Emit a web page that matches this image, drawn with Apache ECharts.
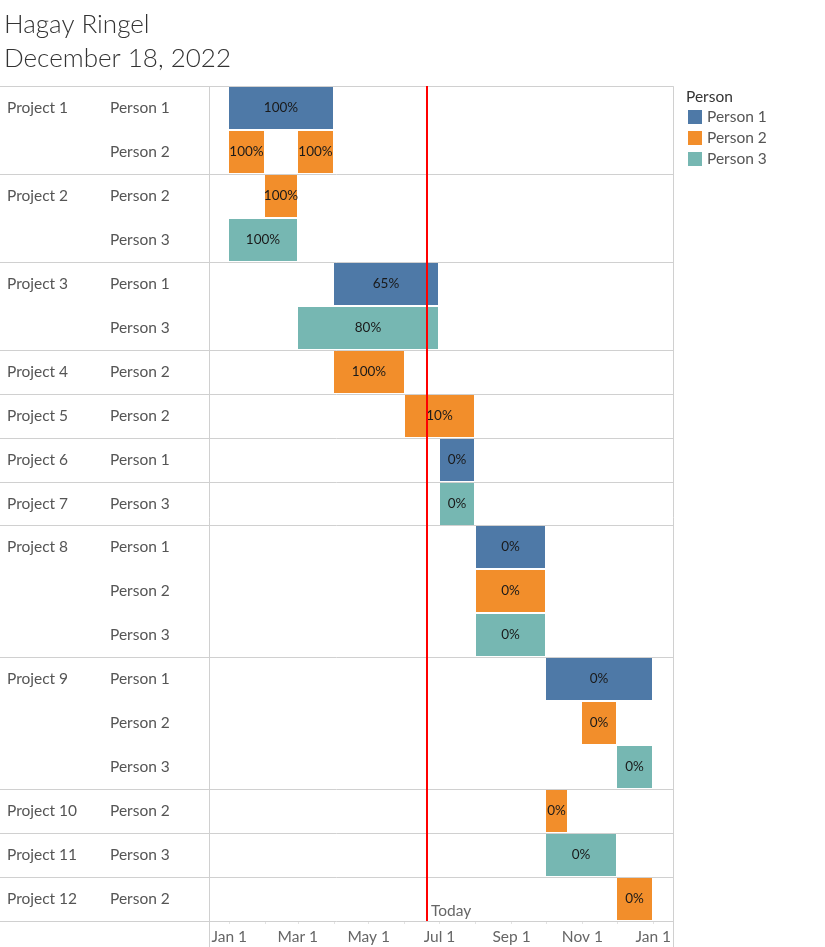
<!DOCTYPE html>
<html><head><meta charset="utf-8">
<script src="https://cdn.jsdelivr.net/npm/echarts@6/dist/echarts.min.js"></script>
<style>html,body{margin:0;padding:0;background:#fff}#c{width:825px;height:947px}</style>
</head><body><div id="c"></div><script>
// ---- data ----
const rowProjects = ['Project 1','Project 1','Project 2','Project 2','Project 3','Project 3','Project 4','Project 5','Project 6','Project 7','Project 8','Project 8','Project 8','Project 9','Project 9','Project 9','Project 10','Project 11','Project 12'];
const rowPersons = ['Person 1','Person 2','Person 2','Person 3','Person 1','Person 3','Person 2','Person 2','Person 1','Person 3','Person 1','Person 2','Person 3','Person 1','Person 2','Person 3','Person 2','Person 3','Person 2'];
const persons = ['Person 1','Person 2','Person 3'];
const taskRows = [0,1,1,2,3,4,5,6,7,8,9,10,11,12,13,14,15,16,17,18];
const taskStarts = ['2022-01-01','2022-01-01','2022-03-01','2022-02-01','2022-01-01','2022-04-01','2022-03-01','2022-04-01','2022-06-01','2022-07-01','2022-07-01','2022-08-01','2022-08-01','2022-08-01','2022-10-01','2022-11-01','2022-12-01','2022-10-01','2022-10-01','2022-12-01'];
const taskEnds = ['2022-03-31','2022-01-31','2022-03-31','2022-02-28','2022-02-28','2022-06-30','2022-06-30','2022-05-31','2022-07-31','2022-07-31','2022-07-31','2022-09-30','2022-09-30','2022-09-30','2022-12-31','2022-11-30','2022-12-31','2022-10-19','2022-11-30','2022-12-31'];
const taskPcts = ['100%','100%','100%','100%','100%','65%','80%','100%','10%','0%','0%','0%','0%','0%','0%','0%','0%','0%','0%','0%'];
const tickDates = ['2022-01-01','2022-03-01','2022-05-01','2022-07-01','2022-09-01','2022-11-01','2023-01-01'];
const tickLabels = ['Jan 1','Mar 1','May 1','Jul 1','Sep 1','Nov 1','Jan 1'];
const monthTickDates = ['2022-01-01','2022-02-01','2022-03-01','2022-04-01','2022-05-01','2022-06-01','2022-07-01','2022-08-01','2022-09-01','2022-10-01','2022-11-01','2022-12-01','2023-01-01'];
const todayDate = '2022-06-20';
const axisStart = '2021-12-14T12';
const axisEnd = '2023-01-18';

// ---- helpers ----
const ts = s => { const [d, h] = s.split('T'); const p = d.split('-').map(Number); return Date.UTC(p[0], p[1] - 1, p[2], h ? Number(h) : 0); };
const FONT = 'Lato, "Open Sans", sans-serif';
const FS = 15.5;
const colors = ['#4e79a7', '#f28e2b', '#76b7b2'];
const rowKeys = rowPersons.map((_, i) => String(i));
const groupStarts = rowProjects.map((p, i) => (i === 0 || rowProjects[i - 1] !== p) ? i : -1).filter(i => i >= 0);
const boundaries = groupStarts.concat([rowProjects.length]);
const tickTs = tickDates.map(ts);

const chart = echarts.init(document.getElementById('c'), null, { renderer: 'canvas' });

function taskSeries(pi) {
  const idx = taskRows.map((r, i) => i).filter(i => rowPersons[taskRows[i]] === persons[pi]);
  return {
    type: 'custom', name: persons[pi], xAxisIndex: 1, yAxisIndex: 1,
    itemStyle: { color: colors[pi] },
    encode: { x: [1, 2], y: 0 },
    data: idx.map(i => [taskRows[i], ts(taskStarts[i]), ts(taskEnds[i])]),
    renderItem(params, api) {
      const s = api.coord([api.value(1), api.value(0)]);
      const e = api.coord([api.value(2), api.value(0)]);
      const h = api.size([0, 1])[1];
      const x0 = Math.round(s[0]), x1 = Math.round(e[0]);
      const y0 = Math.round(s[1] - h / 2) + 1;
      return {
        type: 'rect',
        shape: { x: x0, y: y0, width: x1 - x0, height: Math.round(h) - 2 },
        style: { fill: colors[pi] },
        textContent: { style: { text: taskPcts[idx[params.dataIndex]], fill: '#1a1a1a', font: '13.5px ' + FONT } },
        textConfig: { position: 'inside' }
      };
    },
    z: 3
  };
}

const option = {
  animation: false,
  color: colors,
  title: [
    { text: 'Hagay Ringel', left: 4, top: 12, padding: 0, textStyle: { fontFamily: FONT, fontSize: 26, fontWeight: 300, color: '#333' } },
    { text: 'December 18, 2022', left: 4, top: 46, padding: 0, textStyle: { fontFamily: FONT, fontSize: 26, fontWeight: 300, color: '#333' } },
    { text: 'Person', left: 686, top: 89, padding: 0, textStyle: { fontFamily: FONT, fontSize: FS, fontWeight: 'normal', color: '#333' } }
  ],
  legend: {
    orient: 'vertical', left: 688, top: 109, padding: 0, itemGap: 5,
    itemWidth: 14, itemHeight: 14, icon: 'rect',
    textStyle: { fontFamily: FONT, fontSize: FS, color: '#555' },
    data: persons
  },
  grid: [
    { left: 0, right: 152, top: 86, bottom: 26, outerBoundsMode: 'none' },
    { left: 209, right: 152, top: 86, bottom: 26, outerBoundsMode: 'none' },
    { left: 209.5, right: 151.5, top: 86.5, bottom: -3, outerBoundsMode: 'none', show: true, borderColor: '#d0d0d0', borderWidth: 1, backgroundColor: 'transparent' }
  ],
  xAxis: [
    { gridIndex: 0, type: 'value', min: 0, max: 1, show: false },
    {
      gridIndex: 1, type: 'value', min: ts(axisStart), max: ts(axisEnd),
      axisLine: { show: false },
      axisTick: { show: true, length: 3, customValues: monthTickDates.map(ts), lineStyle: { color: '#e3e3e3' } },
      axisLabel: {
        customValues: tickTs, margin: 8, color: '#666', fontSize: FS, fontFamily: FONT,
        formatter: (v, i) => { const k = tickTs.indexOf(v); return k >= 0 ? tickLabels[k] : (tickLabels[i] || ''); }
      },
      splitLine: { show: false }
    },
    { gridIndex: 2, type: 'value', min: 0, max: 1, show: false }
  ],
  yAxis: [
    { gridIndex: 0, type: 'value', min: 0, max: rowPersons.length, inverse: true, show: false },
    {
      gridIndex: 1, type: 'category', position: 'left', data: rowKeys, inverse: true,
      axisLine: { show: false }, axisTick: { show: false }, splitLine: { show: false },
      axisLabel: { interval: 0, formatter: (v, i) => rowPersons[i], align: 'left', margin: 99, color: '#555', fontSize: FS, fontFamily: FONT }
    },
    {
      gridIndex: 1, type: 'category', position: 'left', offset: 0, data: rowKeys, inverse: true,
      axisLine: { show: false }, axisTick: { show: false }, splitLine: { show: false },
      axisLabel: { interval: 0, formatter: (v, i) => groupStarts.indexOf(i) >= 0 ? rowProjects[i] : '', align: 'left', margin: 202, color: '#555', fontSize: FS, fontFamily: FONT }
    },
    { gridIndex: 2, type: 'value', min: 0, max: 1, show: false }
  ],
  series: [
    {
      type: 'custom', name: 'sep', xAxisIndex: 0, yAxisIndex: 0, silent: true, z: 1,
      encode: { x: 0, y: 1 },
      data: boundaries.map(b => [0, b]),
      renderItem(params, api) {
        const y = Math.round(api.coord([0, api.value(1)])[1]) + 0.5;
        const cs = params.coordSys;
        return { type: 'line', shape: { x1: cs.x, y1: y, x2: cs.x + cs.width + 0.5, y2: y }, style: { stroke: '#d0d0d0', lineWidth: 1 } };
      }
    },
    taskSeries(0), taskSeries(1), taskSeries(2),
    {
      type: 'custom', name: 'today', xAxisIndex: 1, yAxisIndex: 1, silent: true, z: 10,
      encode: { x: 0, y: 1 },
      data: [[ts(todayDate), 0]],
      renderItem(params, api) {
        const x = Math.round(api.coord([api.value(0), 0])[0]);
        const cs = params.coordSys;
        return {
          type: 'group', children: [
            { type: 'line', shape: { x1: x, y1: cs.y, x2: x, y2: cs.y + cs.height }, style: { stroke: '#ff0000', lineWidth: 2 } },
            { type: 'text', x: x + 4, y: cs.y + cs.height - 2, style: { text: 'Today', fill: '#666', font: FS + 'px ' + FONT, align: 'left', verticalAlign: 'bottom' } }
          ]
        };
      }
    }
  ]
};
chart.setOption(option);
</script></body></html>
